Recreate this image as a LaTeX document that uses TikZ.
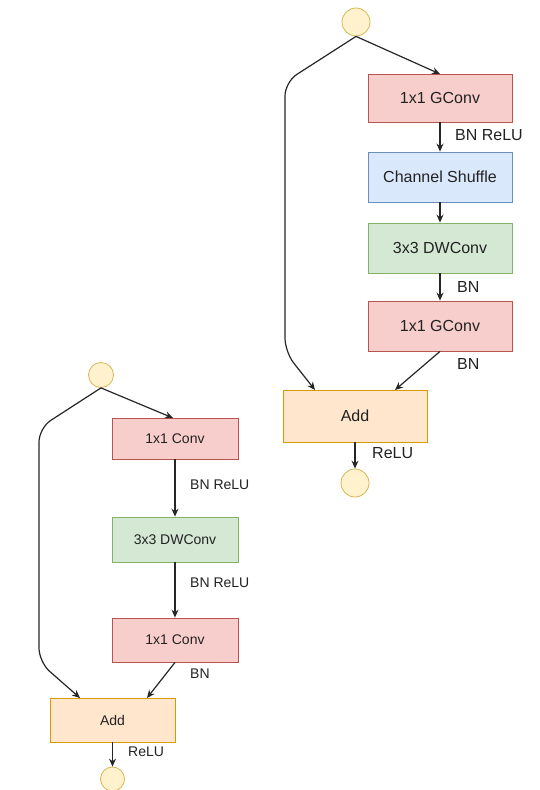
\documentclass[tikz,border=0pt]{standalone}
\usepackage{fontspec}
\setmainfont{Liberation Sans}
\usetikzlibrary{arrows.meta}
\definecolor{redf}{HTML}{F8CECC}\definecolor{redd}{HTML}{B85450}
\definecolor{bluef}{HTML}{DAE8FC}\definecolor{blued}{HTML}{6C8EBF}
\definecolor{greenf}{HTML}{D5E8D4}\definecolor{greend}{HTML}{82B366}
\definecolor{orf}{HTML}{FFE6CC}\definecolor{ord}{HTML}{D79B00}
\definecolor{yf}{HTML}{FFF2CC}\definecolor{yd}{HTML}{D6B656}
\definecolor{txt}{HTML}{222222}
\tikzset{
  box/.style={rectangle, draw, line width=0.8pt, inner sep=0pt, text=txt},
  bigbox/.style={box, minimum width=144pt, minimum height=50pt, font=\fontsize{16}{17}\selectfont},
  smallbox/.style={box, minimum width=126pt, minimum height=43pt, font=\fontsize{14}{15}\selectfont},
  redbox/.style={fill=redf, draw=redd},
  bluebox/.style={fill=bluef, draw=blued},
  greenbox/.style={fill=greenf, draw=greend},
  addbox/.style={fill=orf, draw=ord},
  term/.style={circle, fill=yf, draw=yd, line width=0.8pt, inner sep=0pt},
  arr/.style={draw=black!85, line width=1.2pt, -{Stealth[length=8pt,width=7pt]}},
  lab/.style={anchor=west, inner sep=0pt, text=txt},
  biglab/.style={lab, font=\fontsize{16}{17}\selectfont},
  smalllab/.style={lab, font=\fontsize{14}{15}\selectfont},
}
\begin{document}
\begin{tikzpicture}[x=1pt, y=-1pt]
\useasboundingbox (0,0) rectangle (539,790);
% ---------- right diagram ----------
\node[term, minimum size=28pt] (rin) at (356,22) {};
\node[bigbox, redbox, minimum height=48pt] (rg1) at (440,98) {1x1 GConv};
\node[bigbox, bluebox] (rcs) at (440,177) {Channel Shuffle};
\node[bigbox, greenbox] (rdw) at (440,248) {3x3 DWConv};
\node[bigbox, redbox] (rg2) at (440,326) {1x1 GConv};
\node[bigbox, addbox, minimum height=52pt] (radd) at (355,416) {Add};
\node[term, minimum size=28pt] (rout) at (355,483) {};
\coordinate (rk1) at (285,82);
\coordinate (rk2) at (285,352);
\coordinate (rt1) at (315,390);
\coordinate (rt2) at (395,390);
\coordinate (rg1t) at (440,74);
\draw[arr] (rin.south) -- (rg1t);
\draw[arr, rounded corners=14pt] (rin.south) -- (rk1) -- (rk2) -- (rt1);
\draw[arr] (rg1) -- (rcs);
\draw[arr] (rcs) -- (rdw);
\draw[arr] (rdw) -- (rg2);
\draw[arr] (rg2.south) -- (rt2);
\draw[arr] (radd) -- (rout);
\node[biglab] (rl1) at (455,135) {BN ReLU};
\node[biglab] (rl2) at (457,287) {BN};
\node[biglab] (rl3) at (457,364) {BN};
\node[biglab] (rl4) at (372,453) {ReLU};
% ---------- left diagram ----------
\node[term, minimum size=25pt] (lin) at (101,375) {};
\node[smallbox, redbox, minimum height=41pt] (lc1) at (175,438.5) {1x1 Conv};
\node[smallbox, greenbox, minimum height=45pt] (ldw) at (175,539.5) {3x3 DWConv};
\node[smallbox, redbox, minimum height=44pt] (lc2) at (175,640) {1x1 Conv};
\node[smallbox, addbox, minimum width=125pt, minimum height=44pt] (ladd) at (112.5,720) {Add};
\node[term, minimum size=24pt] (lout) at (112.5,779) {};
\coordinate (lk1) at (39,428);
\coordinate (lk2) at (39,662);
\coordinate (lt1) at (80,698);
\coordinate (lt2) at (147,698);
\coordinate (lc1t) at (173,418);
\draw[arr] (lin.south) -- (lc1t);
\draw[arr, rounded corners=14pt] (lin.south) -- (lk1) -- (lk2) -- (lt1);
\draw[arr] (lc1) -- (ldw);
\draw[arr] (ldw) -- (lc2);
\draw[arr] (lc2.south) -- (lt2);
\draw[arr] (ladd) -- (lout);
\node[smalllab] (ll1) at (190,485) {BN ReLU};
\node[smalllab] (ll2) at (190,583) {BN ReLU};
\node[smalllab] (ll3) at (190,674) {BN};
\node[smalllab] (ll4) at (128,752) {ReLU};
\end{tikzpicture}
\end{document}
